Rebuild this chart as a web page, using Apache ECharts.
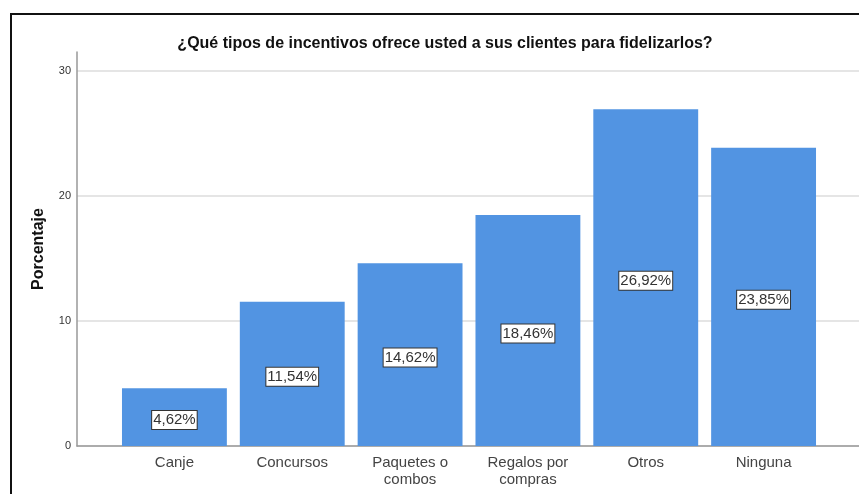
<!DOCTYPE html>
<html>
<head>
<meta charset="utf-8">
<script src="https://cdn.jsdelivr.net/npm/echarts@6/dist/echarts.min.js"></script>
<style>
  html, body { margin: 0; padding: 0; background: #fff; }
  #chart { width: 859px; height: 494px; }
</style>
</head>
<body>
<div id="chart"></div>
<script>
// datos
var categorias = ['Canje', 'Concursos', 'Paquetes o\ncombos', 'Regalos por\ncompras', 'Otros', 'Ninguna'];
var porcentajes = [4.62, 11.54, 14.62, 18.46, 26.92, 23.85];
var yMax = 31.5;

var myChart = echarts.init(document.getElementById('chart'));

var option = {
  animation: false,
  backgroundColor: '#fff',
  textStyle: { fontFamily: 'Liberation Sans, Arial, sans-serif' },
  title: {
    text: '¿Qué tipos de incentivos ofrece usted a sus clientes para fidelizarlos?',
    left: 440,
    textAlign: 'center',
    top: 31,
    textStyle: { fontSize: 16, fontWeight: 'bold', color: '#111' }
  },
  // marco negro
  graphic: [{
    type: 'rect',
    shape: { x: 11, y: 14, width: 900, height: 600 },
    style: { fill: 'none', stroke: '#111', lineWidth: 2 },
    silent: true
  }],
  grid: [
    { left: 77, right: 0, top: 52, bottom: 48 },
    { left: 115.5, right: 36.5, top: 52, bottom: 48 }
  ],
  xAxis: [
    {
      gridIndex: 0, type: 'value', min: 0, max: 1,
      axisLine: { show: true, lineStyle: { color: '#999', width: 1.5 } },
      axisTick: { show: false }, axisLabel: { show: false }, splitLine: { show: false }
    },
    {
      gridIndex: 1, type: 'category', data: categorias,
      axisLine: { show: false }, axisTick: { show: false },
      axisLabel: { fontSize: 15, color: '#444', margin: 8, lineHeight: 17, interval: 0 }
    }
  ],
  yAxis: [
    {
      gridIndex: 0, type: 'value', min: 0, max: yMax, interval: 10,
      name: 'Porcentaje', nameLocation: 'middle', nameGap: 30,
      nameTextStyle: { fontSize: 16, fontWeight: 'bold', color: '#111' },
      axisLine: { show: true, lineStyle: { color: '#999', width: 1.5 } },
      axisTick: { show: false },
      axisLabel: { fontSize: 11, color: '#333', margin: 6, showMaxLabel: false },
      splitLine: { show: true, showMaxLine: false, lineStyle: { color: '#ddd', width: 1.5 } }
    },
    {
      gridIndex: 1, type: 'value', min: 0, max: yMax, show: false
    }
  ],
  series: [{
    type: 'bar',
    xAxisIndex: 1,
    yAxisIndex: 1,
    data: porcentajes,
    barCategoryGap: '11%',
    itemStyle: { color: '#5294E2' },
    label: {
      show: true,
      position: 'inside',
      offset: [0, 3],
      formatter: function (p) { return p.value.toFixed(2).replace('.', ',') + '%'; },
      fontSize: 15,
      color: '#333',
      backgroundColor: '#fff',
      borderColor: '#333',
      borderWidth: 1,
      padding: [2, 1, 1, 1]
    }
  }]
};

myChart.setOption(option);
</script>
</body>
</html>
